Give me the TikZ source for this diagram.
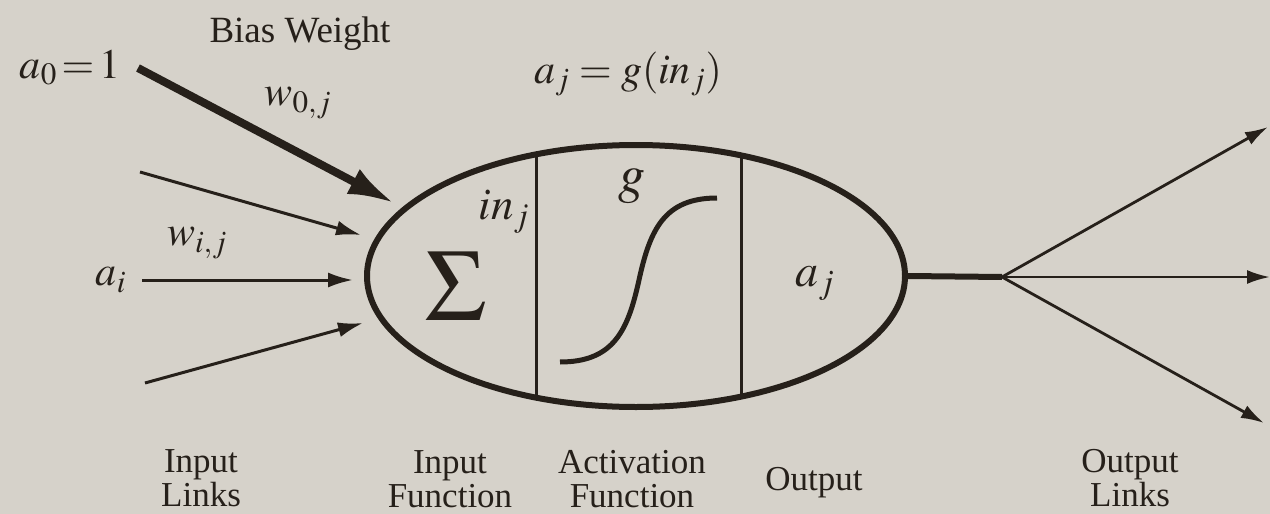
\documentclass[tikz,border=0pt]{standalone}
\usepackage{mathptmx}
\usepackage[no-math]{fontspec}
\setmainfont{Liberation Serif}
\usetikzlibrary{arrows.meta,shapes.geometric}
\definecolor{paper}{RGB}{214,210,202}
\definecolor{ink}{RGB}{38,32,26}
\tikzset{
  lbl/.style={text=ink,inner sep=0pt,font=\fontsize{37}{40}\selectfont},
  mlbl/.style={text=ink,inner sep=0pt,font=\fontsize{42}{44}\selectfont},
  captext/.style={text=ink,inner sep=0pt,align=center,anchor=north,font=\fontsize{35}{34}\selectfont},
  inarrow/.style={draw=ink,line width=3pt,-{Latex[length=25pt,width=15pt]}},
  biasarrow/.style={draw=ink,line width=8pt,-{Latex[length=46pt,width=28pt]}},
  outarrow/.style={draw=ink,line width=2.8pt,-{Latex[length=23pt,width=14pt]}},
}
\begin{document}
\begin{tikzpicture}[x=1pt,y=-1pt]
\useasboundingbox (0,0) rectangle (1270,514);
\fill[paper] (0,0) rectangle (1270,514);

% neuron body
\node[draw=ink,line width=6pt,ellipse,minimum width=538pt,minimum height=262pt,inner sep=0pt] (neuron) at (636,276) {};
\begin{scope}
  \clip (636,276) ellipse [x radius=268, y radius=130];
  \draw[ink,line width=3pt] (536,100) -- (536,450);
  \draw[ink,line width=3pt] (741,100) -- (741,450);
\end{scope}

% contents
\node[text=ink,inner sep=0pt,anchor=base,text height=66pt,text depth=0pt,font=\fontsize{102}{102}\selectfont] (sum) at (456,320) {$\Sigma$};
\node[mlbl,font=\fontsize{45}{47}\selectfont] (inj) at (504,212) {$in_j$};
\node[mlbl,font=\fontsize{54}{56}\selectfont] (g) at (632,186) {$g$};
\draw[ink,line width=5pt] (560,362) .. controls (614,362) and (628,330) .. (639,280)
      .. controls (650,230) and (664,198) .. (717,198);
\node[mlbl,font=\fontsize{46}{48}\selectfont] (aj) at (815,284) {$a_j$};
\node[mlbl,anchor=base] (eq) at (628,83) {$a_j = g(in_j)$};

% inputs
\node[lbl,anchor=base] (bias) at (300,42) {Bias Weight};
\node[mlbl,anchor=base] (a0) at (70,78) {$a_0\!=\!1$};
\node[mlbl] (w0) at (298,103) {$w_{0,j}$};
\node[mlbl] (wi) at (197,243) {$w_{i,j}$};
\node[mlbl] (ai) at (111,280) {$a_i$};

\coordinate (b0) at (138,68);
\coordinate (b1) at (394,203);
\coordinate (s2) at (140,172);
\coordinate (e2) at (361,235);
\coordinate (s3) at (142,280);
\coordinate (e3) at (353,280);
\coordinate (s4) at (145,383);
\coordinate (e4) at (363,323);

\draw[biasarrow] (b0) -- (b1);
\draw[inarrow] (s2) -- (e2);
\draw[inarrow] (s3) -- (e3);
\draw[inarrow] (s4) -- (e4);

% outputs
\coordinate (junc) at (1002,277);
\coordinate (o1) at (1268,127);
\coordinate (o2) at (1270,277);
\coordinate (o3) at (1264,423);
\draw[ink,line width=6pt] (neuron.east) -- (junc);
\draw[outarrow] (junc) -- (o1);
\draw[outarrow] (junc) -- (o2);
\draw[outarrow] (junc) -- (o3);

% captions
\node[captext] (c1) at (201,449) {Input\\Links};
\node[captext] (c2) at (450,450) {Input\\Function};
\node[captext] (c3) at (632,450) {Activation\\Function};
\node[lbl,anchor=base,font=\fontsize{35}{34}\selectfont] (c4) at (814,490) {Output};
\node[captext] (c5) at (1130,449) {Output\\Links};
\end{tikzpicture}
\end{document}
